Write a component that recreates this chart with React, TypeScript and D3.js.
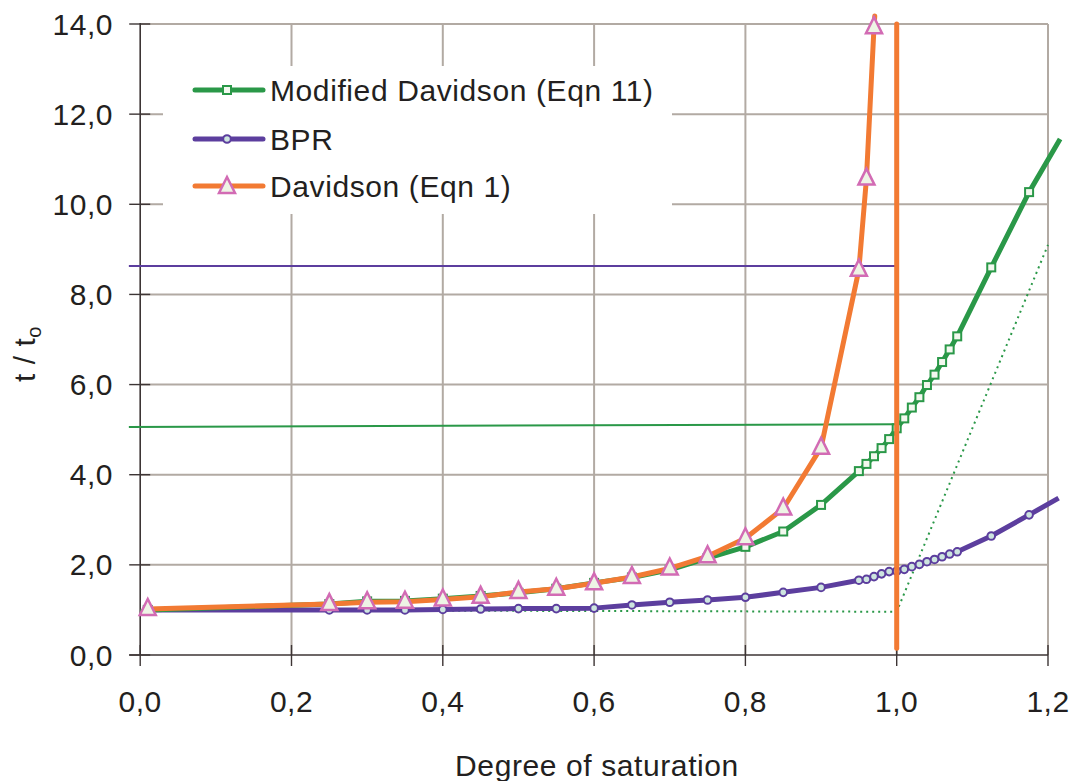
import React from "react";
import * as d3 from "d3";

// ---- data ----
const xTicks = [0, 0.2, 0.4, 0.6, 0.8, 1.0, 1.2];
const yTicks = [0, 2, 4, 6, 8, 10, 12, 14];

const davX = [0.01, 0.25, 0.30, 0.35, 0.40, 0.45, 0.50, 0.55, 0.60, 0.65, 0.70, 0.75, 0.80, 0.85, 0.90, 0.95, 0.96, 0.97];
const davY = [1.02, 1.13, 1.17, 1.18, 1.23, 1.29, 1.40, 1.47, 1.59, 1.73, 1.92, 2.19, 2.59, 3.25, 4.60, 8.55, 10.57, 13.93];
const davEnd = { x: 0.971, y: 14.18 };

const modX = [0.01, 0.25, 0.30, 0.35, 0.40, 0.45, 0.50, 0.55, 0.60, 0.65, 0.70, 0.75, 0.80, 0.85, 0.90, 0.95, 0.96, 0.97, 0.98, 0.99, 1.00, 1.01, 1.02, 1.03, 1.04, 1.05, 1.06, 1.07, 1.08, 1.125, 1.175];
const modY = [1.0, 1.13, 1.19, 1.20, 1.25, 1.31, 1.38, 1.47, 1.60, 1.72, 1.89, 2.15, 2.40, 2.74, 3.33, 4.08, 4.24, 4.41, 4.59, 4.79, 5.03, 5.25, 5.49, 5.72, 5.99, 6.22, 6.50, 6.78, 7.07, 8.60, 10.27];
const modEnd = { x: 1.216, y: 11.45 };

const bprX = modX;
const bprY = [1.0, 1.0, 1.0, 1.0, 1.01, 1.02, 1.03, 1.03, 1.04, 1.11, 1.17, 1.22, 1.28, 1.39, 1.50, 1.66, 1.68, 1.74, 1.80, 1.85, 1.86, 1.90, 1.96, 2.01, 2.07, 2.12, 2.18, 2.24, 2.29, 2.64, 3.11];
const bprEnd = { x: 1.214, y: 3.48 };

const dottedX = [0, 1.0, 1.2];
const dottedY = [1.0, 0.96, 9.1];

const refBprX = [-0.015, 1.0];
const refBprY = [8.63, 8.63];
const refModX = [-0.015, 1.0];
const refModY = [5.06, 5.12];

const vertX = [1.0, 1.0];
const vertY = [0.15, 14.0];

const legendLabels = ["Modified Davidson (Eqn 11)", "BPR", "Davidson (Eqn 1)"];

// ---- styles ----
const GREEN = "#2a9848";
const PURPLE = "#5c3e9e";
const ORANGE = "#f27a33";
const PINK = "#d26bb4";
const GRID = "#b2aaa3";
const AXIS = "#3d3535";
const TEXT = "#231f20";
const FONT = "'Liberation Sans', Arial, sans-serif";

const W = 1075, H = 781;
const x = d3.scaleLinear().domain([0, 1.2]).range([140.2, 1048]);
const y = d3.scaleLinear().domain([0, 14]).range([655, 24]);

type P = { x: number; y: number };
const zip = (xs: number[], ys: number[]): P[] => xs.map((v, i) => ({ x: v, y: ys[i] }));
const line = d3.line<P>().x((d) => x(d.x)).y((d) => y(d.y));

const tri = (cx: number, cy: number) =>
  `M${cx},${cy - 10}L${cx + 8},${cy + 6}L${cx - 8},${cy + 6}Z`;

function Square({ cx, cy }: { cx: number; cy: number }) {
  return <rect x={cx - 4} y={cy - 4} width={8} height={8} fill="#f3f8ef" stroke={GREEN} strokeWidth={2} />;
}
function Circ({ cx, cy }: { cx: number; cy: number }) {
  return <circle cx={cx} cy={cy} r={3.8} fill="#cde5df" stroke={PURPLE} strokeWidth={2} />;
}
function Tri({ cx, cy }: { cx: number; cy: number }) {
  return <path d={tri(cx, cy)} fill="#eef4e5" stroke={PINK} strokeWidth={2.5} strokeLinejoin="miter" />;
}

export default function App() {
  const dav = zip(davX, davY);
  const mod = zip(modX, modY);
  const bpr = zip(bprX, bprY);
  const legendY = [90, 139, 186];

  return (
    <svg width={W} height={H} style={{ position: "fixed", left: 0, top: 0, background: "#fff" }} fontFamily={FONT}>
      <rect width={W} height={H} fill="#fff" />
      {/* grid */}
      {yTicks.filter((t) => t > 0).map((t) => (
        <line key={"gy" + t} x1={x(0)} x2={x(1.2)} y1={y(t)} y2={y(t)} stroke={GRID} strokeWidth={2} />
      ))}
      {xTicks.filter((t) => t > 0).map((t) => (
        <line key={"gx" + t} x1={x(t)} x2={x(t)} y1={y(0)} y2={y(14)} stroke={GRID} strokeWidth={2} />
      ))}
      {/* legend background */}
      <rect x={163} y={66} width={509} height={148} fill="#fff" />

      {/* axes */}
      <line x1={x(0)} x2={x(0)} y1={y(14) - 1} y2={y(0)} stroke={AXIS} strokeWidth={1.6} />
      <line x1={x(0) - 11} x2={x(1.2)} y1={y(0)} y2={y(0)} stroke={AXIS} strokeWidth={1.6} />
      {yTicks.map((t) => (
        <g key={"ty" + t}>
          <line x1={x(0) - 11} x2={x(0) + 10} y1={y(t)} y2={y(t)} stroke={AXIS} strokeWidth={1.4} />
          <text x={113} y={y(t) + 10.5} textAnchor="end" fontSize={30} fill={TEXT} letterSpacing={0.5}>
            {t.toFixed(1).replace(".", ",")}
          </text>
        </g>
      ))}
      {xTicks.map((t) => (
        <g key={"tx" + t}>
          <line x1={x(t)} x2={x(t)} y1={y(0) - 10} y2={y(0) + 11} stroke={AXIS} strokeWidth={1.4} />
          <text x={x(t)} y={712} textAnchor="middle" fontSize={30} fill={TEXT} letterSpacing={0.5}>
            {t.toFixed(1).replace(".", ",")}
          </text>
        </g>
      ))}
      <text x={597} y={776} textAnchor="middle" fontSize={30} fill={TEXT} letterSpacing={0.6}>
        Degree of saturation
      </text>
      <text transform="translate(35,354) rotate(-90)" textAnchor="middle" fontSize={30} fill={TEXT} letterSpacing={0.5}>
        t / t<tspan fontSize={20} dy={6}>o</tspan>
      </text>

      {/* reference lines */}
      <path d={line(zip(refBprX, refBprY)) || ""} fill="none" stroke={PURPLE} strokeWidth={2} />
      <path d={line(zip(refModX, refModY)) || ""} fill="none" stroke={GREEN} strokeWidth={2} />
      <path d={line(zip(dottedX, dottedY)) || ""} fill="none" stroke={GREEN} strokeWidth={2} strokeDasharray="2,4" />

      {/* BPR */}
      <path d={line([...bpr, bprEnd]) || ""} fill="none" stroke={PURPLE} strokeWidth={5} strokeLinejoin="round" />
      {bpr.map((d, i) => <Circ key={"c" + i} cx={x(d.x)} cy={y(d.y)} />)}

      {/* Modified Davidson */}
      <path d={line([...mod, modEnd]) || ""} fill="none" stroke={GREEN} strokeWidth={5} strokeLinejoin="round" />
      {mod.map((d, i) => <Square key={"s" + i} cx={x(d.x)} cy={y(d.y)} />)}

      {/* Davidson */}
      <path d={line([...dav, davEnd]) || ""} fill="none" stroke={ORANGE} strokeWidth={5} strokeLinejoin="round" strokeLinecap="round" />
      {dav.map((d, i) => <Tri key={"t" + i} cx={x(d.x)} cy={y(d.y)} />)}

      {/* vertical capacity line */}
      <path d={line(zip(vertX, vertY)) || ""} fill="none" stroke={ORANGE} strokeWidth={5} strokeLinecap="round" />

      {/* legend */}
      {legendLabels.map((lab, i) => {
        const ly = legendY[i];
        const col = [GREEN, PURPLE, ORANGE][i];
        return (
          <g key={"lg" + i}>
            <line x1={195} x2={263} y1={ly} y2={ly} stroke={col} strokeWidth={5} strokeLinecap="round" />
            {i === 0 && <Square cx={227} cy={ly} />}
            {i === 1 && <Circ cx={227} cy={ly} />}
            {i === 2 && <Tri cx={227} cy={ly + 1} />}
            <text x={270} y={ly + 11} fontSize={30} fill={TEXT} letterSpacing={0.6}>{lab}</text>
          </g>
        );
      })}
    </svg>
  );
}
